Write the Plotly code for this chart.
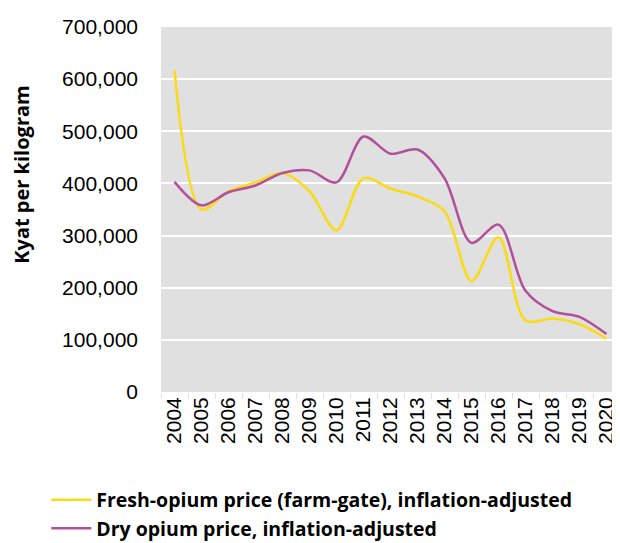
"""Opium prices in Myanmar, inflation-adjusted."""

import plotly.graph_objects as go

years = [str(y) for y in range(2004, 2021)]
fresh_price = [617000, 350000, 385000, 402000, 420000, 385000, 310000, 410000, 390000,
               375000, 347000, 213000, 297000, 137000, 141000, 130000, 102000]
dry_price = [403000, 358000, 383000, 396000, 420000, 425000, 402000, 490000, 457000,
             465000, 410000, 286000, 321000, 194000, 155000, 144000, 111000]

YELLOW = "#FADB14"
PURPLE = "#B3509B"

fig = go.Figure()
fig.add_trace(go.Scatter(
    x=years, y=fresh_price, mode="lines",
    name="Fresh-opium price (farm-gate), inflation-adjusted",
    line=dict(color=YELLOW, width=2.5, shape="spline", smoothing=0.9),
))
fig.add_trace(go.Scatter(
    x=years, y=dry_price, mode="lines",
    name="Dry opium price, inflation-adjusted",
    line=dict(color=PURPLE, width=2.5, shape="spline", smoothing=0.9),
))

fig.update_xaxes(
    type="category", range=[-0.5, 16.5], automargin=False,
    tickangle=-90, tickson="boundaries", ticks="outside",
    ticklen=6, tickcolor="#E0E0E0", showgrid=False,
    tickfont=dict(family="Liberation Sans", size=21, color="#000"),
)
fig.update_yaxes(
    range=[0, 700000], dtick=100000, tickformat=",d", showgrid=True,
    gridcolor="#FFFFFF", gridwidth=1.5, zeroline=False, ticks="",
    automargin=False, ticklabelstandoff=22,
    tickfont=dict(family="Liberation Sans", size=21, color="#000"),
)
fig.add_annotation(
    text="<b>Kyat per kilogram</b>", textangle=-90, xref="paper", yref="paper",
    x=-0.303, y=0.595, xanchor="center", yanchor="middle", showarrow=False,
    font=dict(family="Open Sans", size=20, color="#000"),
)
# the page body adds an 8px margin, so the figure is 8px smaller than the window
fig.update_layout(
    width=612, height=535, plot_bgcolor="#E0E0E0", paper_bgcolor="#FFFFFF",
    margin=dict(l=153, r=0, t=19, b=151, autoexpand=False),
    legend=dict(
        x=-0.25, y=-0.243, xanchor="left", yanchor="top", tracegroupgap=0,
        font=dict(family="Open Sans", size=19.5, color="#000", weight="bold"),
        itemwidth=40,
    ),
)
fig.write_html("out.html")
